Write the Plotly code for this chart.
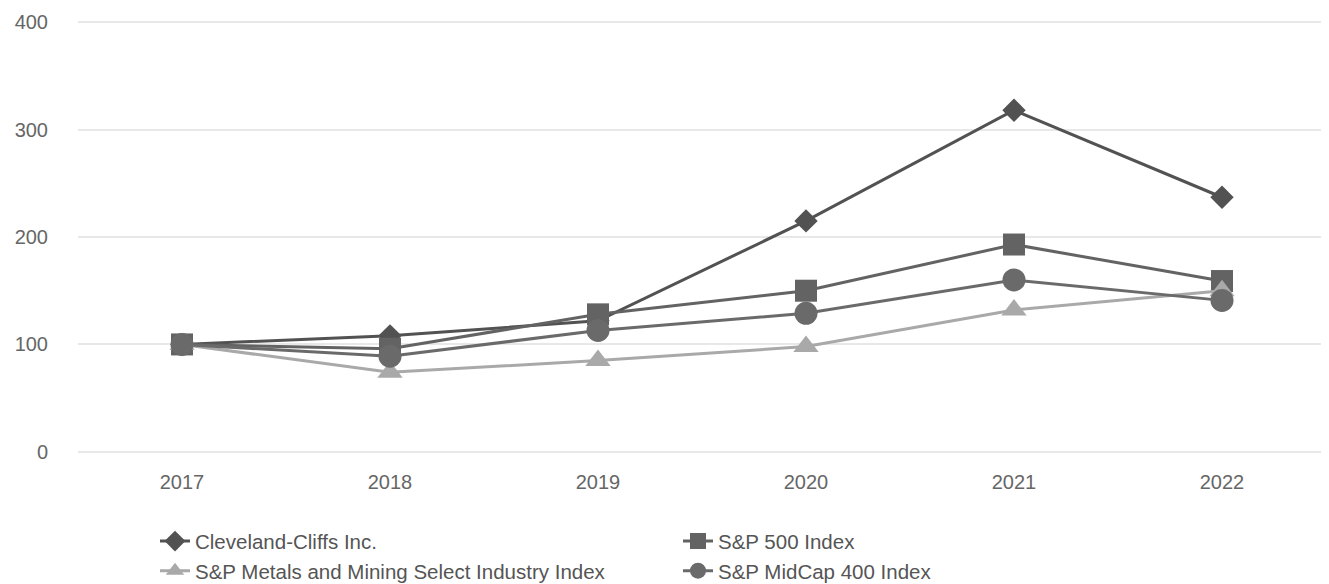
import plotly.graph_objects as go

years = ["2017", "2018", "2019", "2020", "2021", "2022"]
cliffs = [100, 108, 122, 215, 318, 237]
sp500 = [100, 96, 128, 150, 193, 159]
metals = [100, 74, 85, 98, 132, 150]
midcap = [100, 89, 113, 129, 160, 141]

series = [
    ("Cleveland-Cliffs Inc.", cliffs, "#525252", "diamond", 18),
    ("S&P 500 Index", sp500, "#636363", "square", 22),
    ("S&P Metals and Mining Select Industry Index", metals, "#a9a9a9", "triangle-up", 22),
    ("S&P MidCap 400 Index", midcap, "#6a6a6a", "circle", 23),
]

fig = go.Figure()
for name, vals, color, sym, size in series:
    fig.add_trace(go.Scatter(
        x=years, y=vals, name=name, mode="lines+markers",
        line=dict(color=color, width=3),
        marker=dict(symbol=sym, size=size, color=color),
    ))

fig.update_layout(
    width=1321, height=576,
    margin=dict(l=70, r=3, t=9, b=130),
    plot_bgcolor="white", paper_bgcolor="white",
    font=dict(family="Liberation Sans, Arial, sans-serif", size=20, color="#666666"),
    xaxis=dict(type="category", range=[-0.5, 5.5], showgrid=False, showline=False,
               zeroline=False, ticks="", ticklabelstandoff=14,
               tickfont=dict(size=20, color="#666666")),
    yaxis=dict(range=[-2, 402], tickvals=[0, 100, 200, 300, 400], showgrid=True,
               gridcolor="#e8e8e8", gridwidth=2, zeroline=False, showline=False,
               ticks="", ticklabelstandoff=29, tickfont=dict(size=20, color="#666666")),
    legend=dict(orientation="h", xref="container", yref="container",
                x=147 / 1321, y=0.109, xanchor="left", yanchor="top",
                entrywidth=478, entrywidthmode="pixels",
                font=dict(size=20.5, color="#555555"), tracegroupgap=0),
    showlegend=True,
)

fig.write_html("out.html")
